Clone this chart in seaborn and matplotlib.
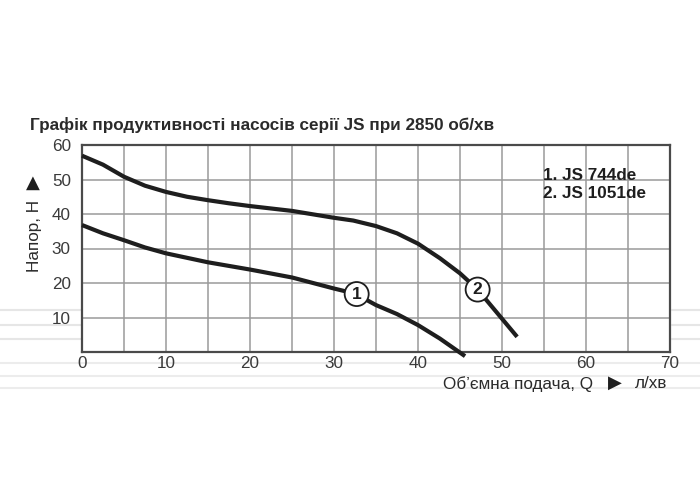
import matplotlib
matplotlib.use("Agg")
import matplotlib.pyplot as plt
import seaborn as sns
import pandas as pd
from matplotlib.lines import Line2D

# -- Data ---------------------------------------------------------------------

q_js744 = [0, 2.5, 5, 7.5, 10, 15, 20, 25, 30, 32.7, 34.1, 35, 37.5, 40, 42.6, 45.6]
h_js744 = [36.8, 34.4, 32.4, 30.3, 28.6, 26.0, 23.9, 21.6, 18.4, 16.8, 14.8, 13.6, 11.0, 7.8, 3.9, -1.2]

q_js1051 = [0, 2.5, 5, 7.5, 10, 12.5, 15, 17.5, 20, 25, 30, 32.3, 35, 37.5, 40, 42.6, 45, 47.1, 48.3, 51.8]
h_js1051 = [56.9, 54.3, 50.8, 48.2, 46.4, 45.0, 44.0, 43.1, 42.3, 40.9, 38.9, 38.1, 36.5, 34.4, 31.4, 27.2, 22.8, 18.1, 14.6, 4.4]

curve_ids = ["1", "2"]
curve_names = ["1. JS 744de", "2. JS 1051de"]
label_pos = [(32.7, 16.8), (47.1, 18.1)]

x_ticks = [0, 10, 20, 30, 40, 50, 60, 70]
y_ticks = [10, 20, 30, 40, 50, 60]

title = "Графік продуктивності насосів серії JS при 2850 об/хв"
y_label = "Напор, Н"
x_label = "Об’ємна подача, Q"
x_unit = "л/хв"

df = pd.concat([
    pd.DataFrame({"Q": q_js744, "H": h_js744, "pump": curve_ids[0]}),
    pd.DataFrame({"Q": q_js1051, "H": h_js1051, "pump": curve_ids[1]}),
], ignore_index=True)

# -- Plot ------------------------------------------------------------------------

sns.set_theme(style="white")
plt.rcParams["font.family"] = ["Liberation Sans", "DejaVu Sans"]
FS = 12.3

fig = plt.figure(figsize=(7, 5), dpi=100)
fig.patch.set_facecolor("white")

# faint scan lines outside the chart
for yy in [310, 325, 339]:
    fig.add_artist(Line2D([0, 82 / 700], [1 - yy / 500] * 2, color="#e6e6e6", lw=1.5, zorder=0))
    fig.add_artist(Line2D([672 / 700, 1], [1 - yy / 500] * 2, color="#e6e6e6", lw=1.5, zorder=0))
for yy in [363, 376, 388]:
    fig.add_artist(Line2D([0, 1], [1 - yy / 500] * 2, color="#ececec", lw=1.5, zorder=0))

ax = fig.add_axes([82 / 700, 1 - 352 / 500, 588 / 700, 207 / 500])
ax.set_facecolor("white")

sns.lineplot(data=df, x="Q", y="H", units="pump", estimator=None, sort=False,
             color="#1e1e1e", lw=3, ax=ax, legend=False, zorder=3)
for ln in ax.lines:
    ln.set_clip_on(False)
    ln.set_solid_capstyle("butt")

for cid, (cx, cy) in zip(curve_ids, label_pos):
    ax.text(cx, cy, cid, ha="center", va="center", fontsize=12.5, fontweight="bold",
            color="#1e1e1e", zorder=5,
            bbox=dict(boxstyle="circle,pad=0.26", fc="white", ec="#1e1e1e", lw=1.3))

ax.set_xlim(0, 70)
ax.set_ylim(0, 60)
ax.set_xticks(x_ticks)
ax.set_xticks(list(range(5, 70, 10)), minor=True)
ax.set_yticks(y_ticks)
ax.grid(True, which="both", color="#9a9a9a", lw=1.1)
ax.set_axisbelow(True)
ax.tick_params(which="both", length=0)
ax.tick_params(axis="x", labelsize=FS, labelcolor="#3a3a3a", pad=3)
ax.tick_params(axis="y", labelsize=FS, labelcolor="#3a3a3a", pad=8)
for s in ax.spines.values():
    s.set_color("#4a4a4a")
    s.set_linewidth(1.6)
ax.set_xlabel("")
ax.set_ylabel("")

fig.text(30 / 700, 1 - 125 / 500, title, fontsize=FS, fontweight="bold",
         color="#2a2a2a", va="center", ha="left")
fig.text(35 / 700, 1 - 236 / 500, y_label, rotation=90, fontsize=FS,
         color="#2a2a2a", ha="center", va="center")
fig.text(33 / 700, 1 - 183 / 500, "▲", fontsize=13, color="#1e1e1e",
         ha="center", va="center", family=["DejaVu Sans"])
fig.text(443 / 700, 1 - 384 / 500, x_label, fontsize=FS, color="#2a2a2a",
         ha="left", va="center")
fig.text(615 / 700, 1 - 383 / 500, "▶", fontsize=13, color="#1e1e1e",
         ha="center", va="center", family=["DejaVu Sans"])
fig.text(635 / 700, 1 - 384 / 500, x_unit, fontsize=FS, color="#2a2a2a",
         ha="left", va="center")

for i, name in enumerate(curve_names):
    fig.text(543 / 700, 1 - (175 + 18 * i) / 500, name, fontsize=FS,
             fontweight="bold", color="#1e1e1e", ha="left", va="center")

fig.savefig("out.png", dpi=100, facecolor="white")
